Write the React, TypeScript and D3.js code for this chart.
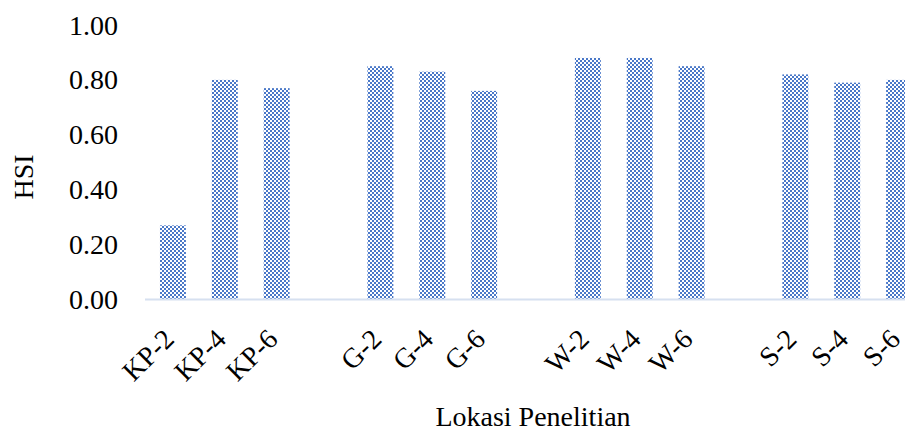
import React, { useEffect } from "react";
import * as d3 from "d3";

const categories = ["KP-2", "KP-4", "KP-6", "", "G-2", "G-4", "G-6", "", "W-2", "W-4", "W-6", "", "S-2", "S-4", "S-6"];
const hsiValues: (number | null)[] = [0.27, 0.8, 0.77, null, 0.85, 0.83, 0.76, null, 0.88, 0.88, 0.85, null, 0.82, 0.79, 0.8];
const yTicks = [0, 0.2, 0.4, 0.6, 0.8, 1.0];
const yTitle = "HSI";
const xTitle = "Lokasi Penelitian";

const W = 905;
const H = 432;
const FONT = "'Liberation Serif', 'Times New Roman', serif";

export default function App() {
  useEffect(() => {
    document.body.style.margin = "0";
  }, []);

  const idx = categories.map((_, i) => String(i));
  const x = d3
    .scaleBand<string>()
    .domain(idx)
    .range([147, 925])
    .paddingInner(0.5)
    .paddingOuter(0.25);
  const y = d3.scaleLinear().domain([0, 1]).range([299.5, 25]);

  return (
    <svg width={W} height={H} style={{ display: "block", background: "#fff" }}>
      <defs>
        <pattern id="checker" width={4} height={4} patternUnits="userSpaceOnUse">
          <rect x={0} y={0} width={4} height={4} fill="#ffffff" />
          <rect x={0} y={0} width={2} height={2} fill="#4A78C8" />
          <rect x={2} y={2} width={2} height={2} fill="#4A78C8" />
        </pattern>
      </defs>

      {yTicks.map((t) => (
        <text
          key={t}
          x={118}
          y={y(t)}
          dy="0.34em"
          textAnchor="end"
          fontFamily={FONT}
          fontSize={28}
          fill="#000"
        >
          {d3.format(".2f")(t)}
        </text>
      ))}

      {hsiValues.map((v, i) =>
        v == null ? null : (
          <rect
            key={i}
            x={x(String(i))!}
            y={y(v)}
            width={x.bandwidth()}
            height={y(0) - y(v)}
            fill="url(#checker)"
          />
        )
      )}

      <line x1={145} x2={W} y1={y(0)} y2={y(0)} stroke="#D6E0F0" strokeWidth={2} />

      {categories.map((c, i) =>
        c === "" ? null : (
          <text
            key={i}
            transform={`translate(${x(String(i))! + x.bandwidth() / 2 - 4},334) rotate(-45)`}
            dy="0.34em"
            textAnchor="end"
            fontFamily={FONT}
            fontSize={28}
            fill="#000"
          >
            {c}
          </text>
        )
      )}

      <text
        transform={`translate(${23.5 + 9.5},177) rotate(-90)`}
        textAnchor="middle"
        fontFamily={FONT}
        fontSize={28}
        fill="#000"
      >
        {yTitle}
      </text>

      <text x={533} y={426} textAnchor="middle" fontFamily={FONT} fontSize={28} fill="#000">
        {xTitle}
      </text>
    </svg>
  );
}
